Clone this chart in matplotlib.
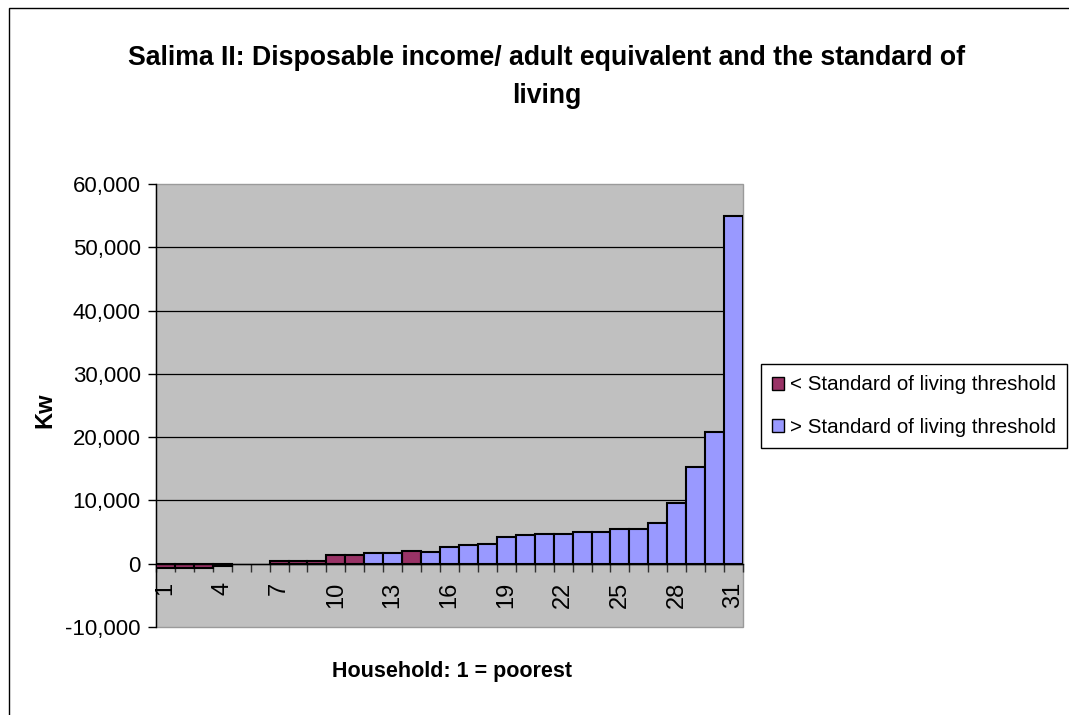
import matplotlib
matplotlib.use("Agg")
import matplotlib.pyplot as plt
from matplotlib import font_manager
from matplotlib.patches import Rectangle, Patch
from matplotlib.ticker import FuncFormatter
import numpy as np

# ---- data -------------------------------------------------------------
households = np.arange(1, 32)
# disposable income per adult equivalent (Kw); NaN = no bar in that series
below_threshold = [-600, -600, -600, -300, np.nan, np.nan, 450, 450, 450, 1300, 1300,
                   np.nan, np.nan, 2000, np.nan, np.nan, np.nan, np.nan, np.nan, np.nan,
                   np.nan, np.nan, np.nan, np.nan, np.nan, np.nan, np.nan, np.nan, np.nan,
                   np.nan, np.nan]
above_threshold = [np.nan, np.nan, np.nan, np.nan, np.nan, np.nan, np.nan, np.nan, np.nan,
                   np.nan, np.nan, 1650, 1650, np.nan, 1900, 2600, 2900, 3150, 4150, 4470,
                   4740, 4740, 5060, 5060, 5420, 5420, 6370, 9590, 15300, 20800, 55000]
series_labels = ["< Standard of living threshold", "> Standard of living threshold"]
label_every = 3
y_ticks = [-10000, 0, 10000, 20000, 30000, 40000, 50000, 60000]

title_text = "Salima II: Disposable income/ adult equivalent and the standard of\nliving"
x_title = "Household: 1 = poorest"
y_title = "Kw"

# ---- styling ----------------------------------------------------------
PINK = "#993366"
BLUE = "#9999FF"
PLOT_BG = "#C0C0C0"

available = {f.name for f in font_manager.fontManager.ttflist}
BASE = "Liberation Sans" if "Liberation Sans" in available else "DejaVu Sans"
plt.rcParams["font.family"] = [BASE, "DejaVu Sans"]

W, H = 1069, 715
fig = plt.figure(figsize=(W / 100, H / 100), dpi=100)
fig.patch.set_facecolor("white")

# outer chart border
fig.patches.append(Rectangle((9 / W, -0.05), 1.2, 1.05 - 8 / H,
                             transform=fig.transFigure, fill=False,
                             edgecolor="black", linewidth=1.0))

left, right, top, bottom = 156, 743, 184, 627
ax = fig.add_axes([left / W, 1 - bottom / H, (right - left) / W, (bottom - top) / H])
ax.set_facecolor(PLOT_BG)
ax.patch.set_edgecolor("#9a9a9a")
ax.patch.set_linewidth(1.0)

bar_kw = dict(width=1.0, edgecolor="black", linewidth=1.5, zorder=3)
ax.bar(households, below_threshold, color=PINK, label=series_labels[0], **bar_kw)
ax.bar(households, above_threshold, color=BLUE, label=series_labels[1], **bar_kw)

ax.set_xlim(0.5, len(households) + 0.5)
ax.set_ylim(y_ticks[0], y_ticks[-1])

# y axis
ax.set_yticks(y_ticks)
ax.yaxis.set_major_formatter(FuncFormatter(lambda v, p: f"{v:,.0f}"))
ax.tick_params(axis="y", direction="out", length=6, width=1, pad=5,
               labelsize=16, colors="black")
ax.grid(axis="y", color="black", linewidth=0.9, zorder=1)
ax.set_axisbelow(True)
glines = ax.get_ygridlines()
glines[0].set_visible(False)
glines[-1].set_visible(False)

# x axis sits on zero, labels every third household
ax.spines["bottom"].set_position(("data", 0))
ax.spines["bottom"].set_zorder(4)
shown = households[::label_every]
ax.set_xticks(shown, [str(h) for h in shown])
ax.set_xticks(np.arange(0.5, len(households) + 1, 1), minor=True)
ax.tick_params(axis="x", which="major", length=0, pad=13, labelsize=17,
               labelrotation=90)
ax.tick_params(axis="x", which="minor", direction="out", length=6, width=1,
               color="#303030")

for side in ("top", "right"):
    ax.spines[side].set_visible(False)
ax.spines["left"].set_linewidth(1.0)
ax.spines["bottom"].set_linewidth(1.0)

# axis titles
ax.set_ylabel(y_title, fontsize=17, fontweight="bold")
ax.yaxis.set_label_coords((56 - left) / (right - left), (bottom - 410) / (bottom - top))
fig.text(452 / W, 1 - 672 / H, x_title, ha="center", va="center",
         fontsize=15.5, fontweight="bold")

# chart title
fig.text(547 / W, 1 - 77 / H, title_text, ha="center", va="center",
         fontsize=19.2, fontweight="bold", linespacing=1.62)

# legend
handles = [Patch(facecolor=PINK, edgecolor="black", linewidth=1.0),
           Patch(facecolor=BLUE, edgecolor="black", linewidth=1.0)]
leg = fig.legend(handles, series_labels, loc="upper left",
                 bbox_to_anchor=(761 / W, 1 - 364 / H), frameon=True,
                 fancybox=False, edgecolor="black", fontsize=14.8,
                 handlelength=0.55, handleheight=0.6, handletextpad=0.3,
                 labelspacing=1.15, borderpad=0.55, borderaxespad=0,
                 framealpha=1)
leg.get_frame().set_linewidth(1.0)

fig.savefig("out.png", dpi=100)
